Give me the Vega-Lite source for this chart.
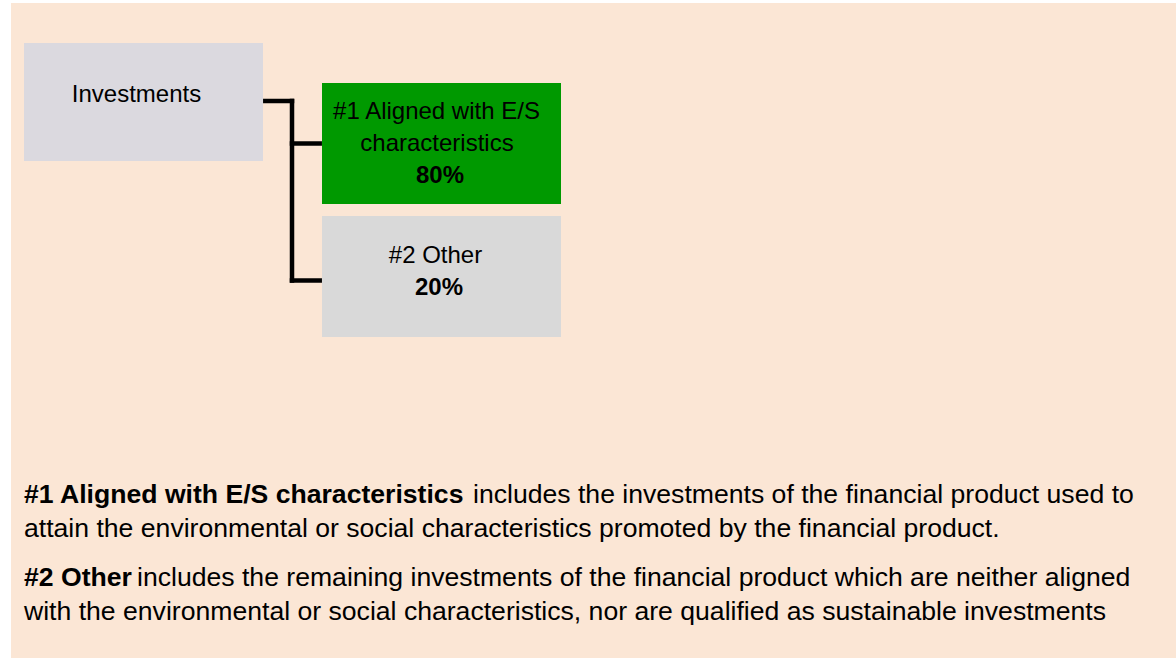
{
  "$schema": "https://vega.github.io/schema/vega-lite/v6.json",
  "width": 1176,
  "height": 659,
  "padding": 0,
  "autosize": {"type": "fit", "contains": "padding"},
  "background": "white",
  "config": {"view": {"stroke": null}, "text": {"font": "Liberation Sans"}},
  "datasets": {
    "panel": [{"x": 11, "x2": 1176, "y": 3, "y2": 658, "fill": "#FBE6D5"}],
    "boxes": [
      {"name": "Investments", "x": 24, "x2": 263, "y": 43, "y2": 161, "fill": "#DBD9DF"},
      {"name": "#1 Aligned with E/S characteristics", "x": 322, "x2": 561, "y": 83, "y2": 204, "fill": "#009900"},
      {"name": "#2 Other", "x": 322, "x2": 561, "y": 216, "y2": 337, "fill": "#D9D9D9"}
    ],
    "links": [
      {"x": 265.3, "x2": 292, "y": 101, "y2": 101},
      {"x": 292, "x2": 292, "y": 101, "y2": 280.5},
      {"x": 292, "x2": 319.7, "y": 143.5, "y2": 143.5},
      {"x": 292, "x2": 319.7, "y": 280.5, "y2": 280.5}
    ],
    "boxText": [
      {"text": "Investments", "x": 136.5, "y": 102, "bold": false},
      {"text": "#1 Aligned with E/S", "x": 436.5, "y": 118.5, "bold": false},
      {"text": "characteristics", "x": 437, "y": 150.5, "bold": false},
      {"text": "80%", "x": 440, "y": 182.5, "bold": true},
      {"text": "#2 Other", "x": 435.5, "y": 262.5, "bold": false},
      {"text": "20%", "x": 439, "y": 294.5, "bold": true}
    ],
    "notes": [
      {"text": "#1 Aligned with E/S characteristics", "x": 24, "y": 503, "bold": true},
      {"text": "includes the investments of the financial product used to", "x": 473, "y": 503, "bold": false},
      {"text": "attain the environmental or social characteristics promoted by the financial product.", "x": 24, "y": 537, "bold": false},
      {"text": "#2 Other", "x": 24, "y": 586, "bold": true},
      {"text": "includes the remaining investments of the financial product which are neither aligned", "x": 137, "y": 586, "bold": false},
      {"text": "with the environmental or social characteristics, nor are qualified as sustainable investments", "x": 24, "y": 620, "bold": false}
    ]
  },
  "encoding": {
    "x": {"field": "x", "type": "quantitative", "scale": {"domain": [0, 1176], "nice": false, "zero": false}, "axis": null},
    "y": {"field": "y", "type": "quantitative", "scale": {"domain": [0, 659], "nice": false, "zero": false, "reverse": true}, "axis": null}
  },
  "layer": [
    {
      "data": {"name": "panel"},
      "mark": {"type": "rect"},
      "encoding": {
        "x2": {"field": "x2"},
        "y2": {"field": "y2"},
        "fill": {"field": "fill", "type": "nominal", "scale": null}
      }
    },
    {
      "data": {"name": "boxes"},
      "mark": {"type": "rect"},
      "encoding": {
        "x2": {"field": "x2"},
        "y2": {"field": "y2"},
        "fill": {"field": "fill", "type": "nominal", "scale": null}
      }
    },
    {
      "data": {"name": "links"},
      "mark": {"type": "rule", "color": "#000000", "strokeWidth": 4.5, "strokeCap": "square"},
      "encoding": {
        "x2": {"field": "x2"},
        "y2": {"field": "y2"}
      }
    },
    {
      "data": {"name": "boxText"},
      "transform": [{"filter": "!datum.bold"}],
      "mark": {"type": "text", "align": "center", "baseline": "alphabetic", "fontSize": 24, "color": "#000000"},
      "encoding": {"text": {"field": "text", "type": "nominal"}}
    },
    {
      "data": {"name": "boxText"},
      "transform": [{"filter": "datum.bold"}],
      "mark": {"type": "text", "align": "center", "baseline": "alphabetic", "fontSize": 24, "fontWeight": "bold", "color": "#000000"},
      "encoding": {"text": {"field": "text", "type": "nominal"}}
    },
    {
      "data": {"name": "notes"},
      "transform": [{"filter": "datum.bold"}],
      "mark": {"type": "text", "align": "left", "baseline": "alphabetic", "fontSize": 26.6, "fontWeight": "bold", "color": "#000000"},
      "encoding": {"text": {"field": "text", "type": "nominal"}}
    },
    {
      "data": {"name": "notes"},
      "transform": [{"filter": "!datum.bold"}],
      "mark": {"type": "text", "align": "left", "baseline": "alphabetic", "fontSize": 26.6, "color": "#000000"},
      "encoding": {"text": {"field": "text", "type": "nominal"}}
    }
  ]
}
